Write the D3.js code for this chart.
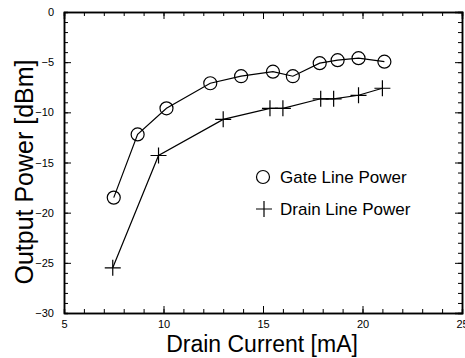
<!DOCTYPE html>
<html>
<head>
<meta charset="utf-8">
<script src="https://cdn.jsdelivr.net/npm/d3@7"></script>
<style>
  body { margin: 0; background: #fff; }
  svg { display: block; font-family: "Liberation Sans", Arial, sans-serif; }
  .axis path { stroke: #000; stroke-width: 1.5; }
  .axis line { stroke: #000; stroke-width: 1; }
  .axis text { font-size: 11px; fill: #000; }
</style>
</head>
<body>
<div id="chart"></div>
<script>
var svgWidth = 465;
var svgHeight = 358;

// Gate line series
var gateCurrent = [7.5, 8.7, 10.15, 12.35, 13.9, 15.5, 16.5, 17.85, 18.75, 19.8, 21.1];
var gatePower = [-18.5, -12.2, -9.6, -7.1, -6.4, -5.95, -6.4, -5.1, -4.8, -4.6, -4.95];

// Drain line series
var drainCurrent = [7.45, 9.75, 13.0, 15.35, 16.0, 17.9, 18.55, 19.8, 21.0];
var drainPower = [-25.5, -14.3, -10.7, -9.6, -9.6, -8.65, -8.65, -8.3, -7.6];

var xTicks = [5, 10, 15, 20, 25];
var yTicks = [0, -5, -10, -15, -20, -25, -30];
var legendLabels = ["Gate Line Power", "Drain Line Power"];

var svg = d3.select("#chart")
  .append("svg")
  .attr("width", svgWidth)
  .attr("height", svgHeight);

var x = d3.scaleLinear().domain([5, 25]).range([64, 462]);
var y = d3.scaleLinear().domain([-30, 0]).range([313, 12]);

var minorX = d3.range(5, 26, 1);
var minorY = d3.range(-30, 1, 1);

// minor ticks, all four sides, pointing in
svg.append("g").attr("class", "axis")
  .attr("transform", `translate(0, ${y(-30)})`)
  .call(d3.axisBottom(x).tickValues(minorX).tickSize(-4).tickFormat(""));
svg.append("g").attr("class", "axis")
  .attr("transform", `translate(0, ${y(0)})`)
  .call(d3.axisTop(x).tickValues(minorX).tickSize(-4).tickFormat(""));
svg.append("g").attr("class", "axis")
  .attr("transform", `translate(${x(5)}, 0)`)
  .call(d3.axisLeft(y).tickValues(minorY).tickSize(-4).tickFormat(""));
svg.append("g").attr("class", "axis")
  .attr("transform", `translate(${x(25)}, 0)`)
  .call(d3.axisRight(y).tickValues(minorY).tickSize(-4).tickFormat(""));

// major ticks with labels
var xAxis = svg.append("g").attr("class", "axis")
  .attr("transform", `translate(0, ${y(-30)})`)
  .call(d3.axisBottom(x).tickValues(xTicks).tickSizeInner(-7).tickSizeOuter(0).tickPadding(5));
xAxis.selectAll("text").attr("dy", "0.9em");

svg.append("g").attr("class", "axis")
  .attr("transform", `translate(0, ${y(0)})`)
  .call(d3.axisTop(x).tickValues(xTicks).tickSize(-7).tickFormat(""));

var yAxis = svg.append("g").attr("class", "axis")
  .attr("transform", `translate(${x(5)}, 0)`)
  .call(d3.axisLeft(y).tickValues(yTicks).tickSizeInner(-7).tickSizeOuter(0).tickPadding(10));

svg.append("g").attr("class", "axis")
  .attr("transform", `translate(${x(25)}, 0)`)
  .call(d3.axisRight(y).tickValues(yTicks).tickSize(-7).tickFormat(""));

// axis titles
svg.append("text")
  .attr("x", 262)
  .attr("y", 352)
  .attr("text-anchor", "middle")
  .style("font-size", "23px")
  .text("Drain Current [mA]");

svg.append("text")
  .attr("transform", "rotate(-90)")
  .attr("x", -172)
  .attr("y", 33)
  .attr("text-anchor", "middle")
  .style("font-size", "25px")
  .text("Output Power [dBm]");

// series lines
var gateData = gateCurrent.map((d, i) => [d, gatePower[i]]);
var drainData = drainCurrent.map((d, i) => [d, drainPower[i]]);

var line = d3.line()
  .x(d => x(d[0]))
  .y(d => y(d[1]));

svg.append("path")
  .datum(gateData)
  .attr("d", line)
  .attr("fill", "none")
  .attr("stroke", "#000")
  .attr("stroke-width", 1.2);

svg.append("path")
  .datum(drainData)
  .attr("d", line)
  .attr("fill", "none")
  .attr("stroke", "#000")
  .attr("stroke-width", 1.2);

// circle markers
svg.selectAll(".gate")
  .data(gateData)
  .enter()
  .append("circle")
  .attr("class", "gate")
  .attr("cx", d => x(d[0]))
  .attr("cy", d => y(d[1]))
  .attr("r", 6.5)
  .attr("fill", "none")
  .attr("stroke", "#000")
  .attr("stroke-width", 1.2);

// cross markers
var crossPath = "M-8,0H8M0,-8V8";
svg.selectAll(".drain")
  .data(drainData)
  .enter()
  .append("path")
  .attr("class", "drain")
  .attr("transform", d => `translate(${x(d[0])}, ${y(d[1])})`)
  .attr("d", crossPath)
  .attr("stroke", "#000")
  .attr("stroke-width", 1.2);

// legend
var legend = svg.append("g");
legend.append("circle")
  .attr("cx", 263)
  .attr("cy", 177)
  .attr("r", 6.5)
  .attr("fill", "none")
  .attr("stroke", "#000")
  .attr("stroke-width", 1.2);
legend.append("path")
  .attr("transform", "translate(264, 209)")
  .attr("d", crossPath)
  .attr("stroke", "#000")
  .attr("stroke-width", 1.2);
legend.selectAll(".legend-text")
  .data(legendLabels)
  .enter()
  .append("text")
  .attr("class", "legend-text")
  .attr("x", 280)
  .attr("y", (d, i) => 183 + i * 32)
  .style("font-size", "17px")
  .text(d => d);
</script>
</body>
</html>
